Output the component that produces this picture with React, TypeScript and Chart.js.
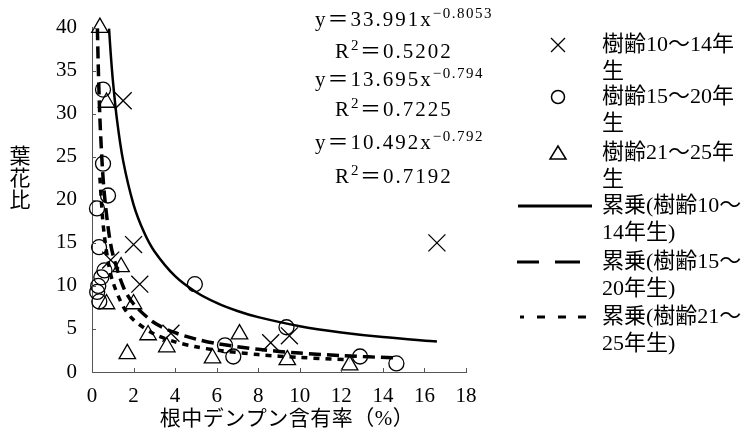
import { useEffect, useRef } from 'react';
import { Chart, registerables } from 'chart.js';
Chart.register(...registerables);

const FONT = '"Liberation Serif", "Noto Sans CJK JP", serif';

// 樹齢10～14年生
const age10X = [1.5, 0.9, 2.0, 2.3, 3.8, 8.6, 9.5, 16.6];
const age10Y = [31.5, 13.0, 14.8, 10.2, 4.5, 3.4, 4.2, 15.0];
// 樹齢15～20年生
const age15X = [0.53, 0.53, 0.77, 0.24, 0.34, 0.6, 0.45, 0.3, 0.25, 0.35, 4.95, 9.36, 6.4, 6.8, 12.9, 14.65];
const age15Y = [32.8, 24.2, 20.5, 19.0, 14.5, 11.8, 11.0, 10.0, 9.3, 8.2, 10.2, 5.2, 3.1, 1.8, 1.8, 1.0];
// 樹齢21～25年生
const age21X = [0.38, 0.7, 1.4, 0.7, 2.0, 1.7, 2.7, 3.6, 5.8, 7.1, 9.4, 12.4];
const age21Y = [40.0, 31.3, 12.2, 7.9, 7.9, 2.1, 4.3, 2.9, 1.6, 4.4, 1.4, 0.8];

// 累乗近似曲線
const fit10X = [0.82, 0.9, 1.0, 1.2, 1.5, 2, 2.5, 3, 4, 5, 6, 7, 8, 10, 12, 14, 16.6];
const fit10Y = [39.88, 37.0, 33.99, 29.35, 24.52, 19.45, 16.25, 14.03, 11.13, 9.30, 8.03, 7.09, 6.37, 5.32, 4.60, 4.06, 3.54];
const fit15X = [0.26, 0.3, 0.35, 0.4, 0.5, 0.6, 0.8, 1.0, 1.5, 2, 3, 4, 5, 6, 8, 10, 12, 14.6];
const fit15Y = [39.91, 35.62, 31.52, 28.35, 23.75, 20.55, 16.35, 13.70, 9.93, 7.90, 5.72, 4.56, 3.82, 3.30, 2.63, 2.20, 1.90, 1.63];
const fit21X = [0.38, 0.5, 0.6, 0.8, 1.0, 1.5, 2, 3, 4, 5, 6, 8, 10, 12.4];
const fit21Y = [22.58, 18.17, 15.72, 12.52, 10.49, 7.61, 6.06, 4.40, 3.50, 2.93, 2.54, 2.02, 1.69, 1.43];

const equations = [
  { base: 'y＝33.991x', sup: '−0.8053' },
  { base: 'R', sup: '2', tail: '＝0.5202' },
  { base: 'y＝13.695x', sup: '−0.794' },
  { base: 'R', sup: '2', tail: '＝0.7225' },
  { base: 'y＝10.492x', sup: '−0.792' },
  { base: 'R', sup: '2', tail: '＝0.7192' },
];

const legendLines = [
  ['樹齢10～14年', '生'],
  ['樹齢15～20年', '生'],
  ['樹齢21～25年', '生'],
  ['累乗(樹齢10～', '14年生)'],
  ['累乗(樹齢15～', '20年生)'],
  ['累乗(樹齢21～', '25年生)'],
];

const xTitle = '根中デンプン含有率（%）';
const yTitle = ['葉', '花', '比'];

const pts = (xs: number[], ys: number[]) => xs.map((x, i) => ({ x, y: ys[i] }));

const decor = {
  id: 'decor',
  afterDraw(chart: any) {
    const ctx: any = chart.ctx;
    const xs = chart.scales.x;
    const ys = chart.scales.y;
    const area = chart.chartArea;
    ctx.save();
    // inward tick marks
    ctx.strokeStyle = '#555';
    ctx.lineWidth = 1;
    ctx.beginPath();
    for (let v = 2; v <= 18; v += 2) {
      const px = Math.round(xs.getPixelForValue(v)) + 0.5;
      ctx.moveTo(px, area.bottom);
      ctx.lineTo(px, area.bottom - 4);
    }
    for (let v = 5; v <= 40; v += 5) {
      const py = Math.round(ys.getPixelForValue(v)) + 0.5;
      ctx.moveTo(area.left, py);
      ctx.lineTo(area.left + 4, py);
    }
    ctx.stroke();

    ctx.fillStyle = '#000';
    ctx.textBaseline = 'middle';
    // axis titles
    ctx.font = `21px ${FONT}`;
    ctx.textAlign = 'center';
    ctx.letterSpacing = '0.5px';
    ctx.fillText(xTitle, 287, 419);
    ctx.letterSpacing = '0px';
    yTitle.forEach((c, i) => ctx.fillText(c, 20, 157 + i * 22));

    // equations
    ctx.textAlign = 'left';
    const eqPos = [
      [315, 20], [335, 52], [315, 80], [335, 110], [315, 143], [335, 177],
    ];
    equations.forEach((eq, i) => {
      const [x, y] = eqPos[i];
      ctx.font = `21px ${FONT}`;
      ctx.letterSpacing = '2px';
      ctx.fillText(eq.base, x, y);
      let cx = x + ctx.measureText(eq.base).width;
      ctx.font = `15px ${FONT}`;
      ctx.letterSpacing = '1.5px';
      ctx.fillText(eq.sup, cx, y - 6);
      cx += ctx.measureText(eq.sup).width;
      if (eq.tail) {
        ctx.font = `21px ${FONT}`;
        ctx.letterSpacing = '2px';
        ctx.fillText(eq.tail, cx, y);
      }
    });
    ctx.letterSpacing = '0px';

    // legend
    const textX = 602;
    const rows = [45, 97, 153, 206, 262, 317];
    ctx.font = `22px ${FONT}`;
    legendLines.forEach((ls, i) => {
      ctx.fillText(ls[0], textX, rows[i]);
      ctx.fillText(ls[1], textX, rows[i] + 27);
    });
    ctx.strokeStyle = '#000';
    ctx.lineWidth = 1.3;
    // cross
    ctx.beginPath();
    ctx.moveTo(551, 38); ctx.lineTo(565, 52);
    ctx.moveTo(565, 38); ctx.lineTo(551, 52);
    ctx.stroke();
    // circle
    ctx.lineWidth = 1.5;
    ctx.beginPath();
    ctx.arc(558, 97, 6.5, 0, Math.PI * 2);
    ctx.stroke();
    // triangle
    ctx.beginPath();
    ctx.moveTo(558, 146); ctx.lineTo(566, 159); ctx.lineTo(550, 159); ctx.closePath();
    ctx.stroke();
    // solid
    ctx.lineWidth = 3;
    ctx.beginPath();
    ctx.moveTo(518, 206); ctx.lineTo(592, 206);
    ctx.stroke();
    // dashed
    ctx.beginPath();
    ctx.moveTo(517, 262); ctx.lineTo(539, 262);
    ctx.moveTo(555, 262); ctx.lineTo(580, 262);
    ctx.stroke();
    // dotted
    ctx.beginPath();
    [[520, 524], [537, 545], [558, 566], [578, 586]].forEach(([a, b]) => {
      ctx.moveTo(a, 317); ctx.lineTo(b, 317);
    });
    ctx.stroke();
    ctx.restore();
  },
};

export default function App() {
  const ref = useRef<HTMLCanvasElement>(null);
  useEffect(() => {
    const tickFont = { family: FONT, size: 21 };
    const markerBase = {
      showLine: false,
      borderColor: '#000',
      backgroundColor: 'rgba(0,0,0,0)',
      pointBorderWidth: 1.3,
      clip: false as any,
    };
    const lineBase = {
      showLine: true,
      pointRadius: 0,
      borderColor: '#000',
      borderWidth: 3,
      fill: false,
      tension: 0.3,
    };
    const chart = new Chart(ref.current!, {
      type: 'scatter',
      data: {
        datasets: [
          { ...lineBase, label: '累乗(樹齢10～14年生)', data: pts(fit10X, fit10Y), borderWidth: 2.5 },
          { ...lineBase, label: '累乗(樹齢15～20年生)', data: pts(fit15X, fit15Y), borderDash: [12, 6], borderWidth: 3.5 },
          { ...lineBase, label: '累乗(樹齢21～25年生)', data: pts(fit21X, fit21Y), borderDash: [6, 6], borderWidth: 3.5 },
          { ...markerBase, label: '樹齢10～14年生', data: pts(age10X, age10Y), pointStyle: 'crossRot', pointRadius: 12 },
          { ...markerBase, label: '樹齢15～20年生', data: pts(age15X, age15Y), pointStyle: 'circle', pointRadius: 7.5 },
          { ...markerBase, label: '樹齢21～25年生', data: pts(age21X, age21Y), pointStyle: 'triangle', pointRadius: 9.5 },
        ] as any,
      },
      options: {
        responsive: false,
        animation: false,
        layout: { padding: { left: 0, right: 278, top: 20, bottom: 0 } },
        plugins: { legend: { display: false }, tooltip: { enabled: false } },
        scales: {
          x: {
            type: 'linear',
            min: 0,
            max: 18,
            ticks: { stepSize: 2, font: tickFont, color: '#000', padding: 12, maxRotation: 0 },
            grid: { display: false, drawTicks: false },
            border: { display: true, color: '#555', dash: [1, 1], width: 1 },
            afterFit: (s: any) => { s.height = 63; },
          },
          y: {
            type: 'linear',
            min: 0,
            max: 40,
            ticks: { stepSize: 5, font: tickFont, color: '#000', padding: 15 },
            grid: { display: false, drawTicks: false },
            border: { display: true, color: '#555', dash: [1, 1], width: 1 },
            afterFit: (s: any) => { s.width = 92; },
          },
        },
      } as any,
      plugins: [decor],
    });
    return () => chart.destroy();
  }, []);
  return (
    <div style={{ position: 'absolute', left: 0, top: 0, width: 744, height: 435, background: '#fff' }}>
      <canvas ref={ref} width={744} height={435} style={{ width: 744, height: 435, display: 'block' }} />
    </div>
  );
}
